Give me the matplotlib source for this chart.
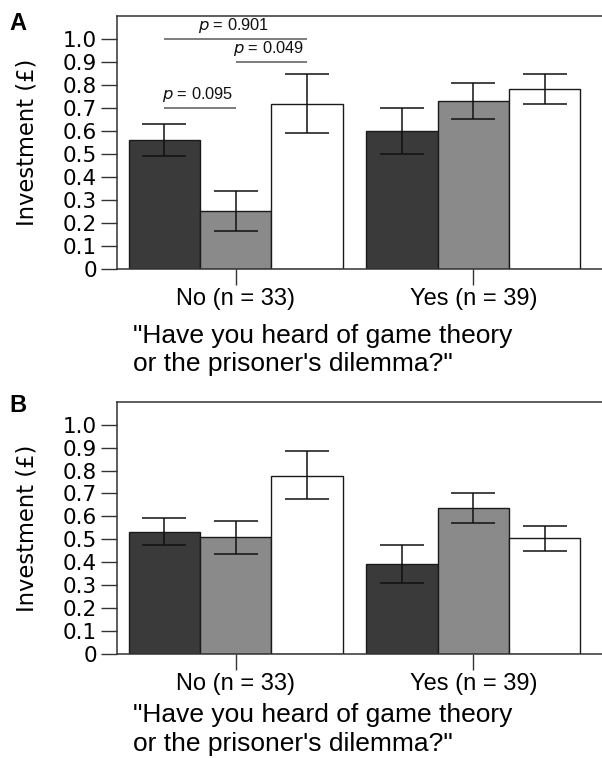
import matplotlib
matplotlib.use("Agg")
import matplotlib.pyplot as plt
import numpy as np

# ---------------- data ----------------
groups = ["No (n = 33)", "Yes (n = 39)"]
conditions = ["dark", "grey", "white"]
bar_colors = ["#3a3a3a", "#8a8a8a", "#ffffff"]
yticks = [0, 0.1, 0.2, 0.3, 0.4, 0.5, 0.6, 0.7, 0.8, 0.9, 1.0]
ytick_labels = ["0", "0.1", "0.2", "0.3", "0.4", "0.5", "0.6", "0.7", "0.8", "0.9", "1.0"]

# Panel A: means, lower and upper error bounds (No group then Yes group)
a_mean = [[0.560, 0.252, 0.718], [0.598, 0.730, 0.782]]
a_low = [[0.492, 0.167, 0.592], [0.499, 0.652, 0.718]]
a_high = [[0.631, 0.337, 0.845], [0.698, 0.808, 0.846]]

# Panel B
b_mean = [[0.533, 0.509, 0.778], [0.394, 0.638, 0.504]]
b_low = [[0.477, 0.438, 0.677], [0.310, 0.571, 0.451]]
b_high = [[0.591, 0.578, 0.883], [0.477, 0.700, 0.560]]

# significance brackets for panel A: (bar i, bar j), height, label
sig_pairs = [(0, 1), (1, 2), (0, 2)]
sig_heights = [0.70, 0.90, 1.00]
sig_labels = ["0.095", "0.049", "0.901"]

W, H = 602, 758
fig = plt.figure(figsize=(W / 100, H / 100), dpi=100)


def fx(x):
    return x / W


def fy(y):
    return 1 - y / H


group_gap = 1 / 3
bar_w = 1.0
xlim = (-0.668, 6.139)


def draw_panel(ax_top, ax_bottom, mean, low, high, letter, letter_y, xl_base1, xl_base2, sig=False):
    ax = fig.add_axes([fx(116.7), fy(ax_bottom), 1 - fx(116.7), (ax_bottom - ax_top) / H])
    centers = []
    for g in range(len(groups)):
        base = g * (len(conditions) + group_gap)
        for c in range(len(conditions)):
            x = base + c
            m = mean[g][c]
            ax.bar(x, m, width=bar_w, color=bar_colors[c], edgecolor="#1a1a1a",
                   linewidth=1.0, zorder=2)
            ax.errorbar(x, m, yerr=[[m - low[g][c]], [high[g][c] - m]], fmt="none",
                        ecolor="#111111", elinewidth=1.1, capsize=15.5, capthick=1.1,
                        zorder=3)
        centers.append(base + 1)
    ax.set_xlim(*xlim)
    ax.set_ylim(0, 1.10)
    ax.set_xticks(centers)
    ax.set_xticklabels(groups, fontsize=17, family="Liberation Sans")
    ax.set_yticks(yticks)
    ax.set_yticklabels(ytick_labels, fontsize=15.5, family="DejaVu Sans")
    ax.tick_params(axis="both", direction="out", length=11.3, width=1.0, color="#333333")
    ax.tick_params(axis="y", pad=3.0)
    ax.tick_params(axis="x", pad=2.5)
    for s in ["left", "top", "bottom"]:
        ax.spines[s].set_linewidth(1.1)
        ax.spines[s].set_color("#333333")
    ax.spines["right"].set_visible(False)

    if sig:
        for (i, j), h, lab in zip(sig_pairs, sig_heights, sig_labels):
            ax.plot([i, j], [h, h], color="#5a5a5a", lw=1.1, solid_capstyle="butt",
                    zorder=3, clip_on=False)
            ax.text((i + j) / 2 - 0.03, h + 0.037, r"$\it{p}$ = " + lab, ha="center",
                    va="baseline", fontsize=11.8, family="Liberation Sans", color="#111111")

    # y label
    fig.text(fx(27.5), fy((ax_top + ax_bottom) / 2), "Investment (£)", rotation=90,
             ha="center", va="center", fontsize=16.3, family="DejaVu Sans")
    # x label (two lines)
    fig.text(fx(133), fy(xl_base1), "\"Have you heard of game theory", ha="left",
             va="baseline", fontsize=19, family="Liberation Sans")
    fig.text(fx(133), fy(xl_base2), "or the prisoner's dilemma?\"", ha="left",
             va="baseline", fontsize=19, family="Liberation Sans")
    # panel letter
    fig.text(fx(9), fy(letter_y), letter, ha="left", va="baseline", fontsize=17,
             fontweight="bold", family="Liberation Sans")
    return ax


draw_panel(15.7, 269, a_mean, a_low, a_high, "A", 30, 343, 370.5, sig=True)
draw_panel(401.7, 654, b_mean, b_low, b_high, "B", 411.7, 721.7, 750.5, sig=False)

fig.savefig("out.png", dpi=100)
